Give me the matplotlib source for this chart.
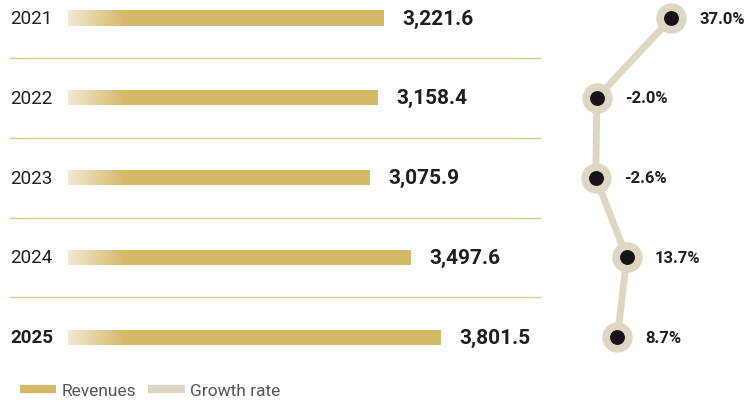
import numpy as np
import matplotlib.pyplot as plt
from matplotlib.lines import Line2D
from matplotlib.colors import LinearSegmentedColormap

years = ["2021", "2022", "2023", "2024", "2025"]
revenues = [3221.6, 3158.4, 3075.9, 3497.6, 3801.5]
growth = [37.0, -2.0, -2.6, 13.7, 8.7]

gold = "#d5b969"
light = "#f1e9d2"
beige = "#dcd6c3"
txt = "#1e1e1e"

plt.rcParams['font.family'] = ['Roboto', 'DejaVu Sans']

W, H = 756, 402
fig = plt.figure(figsize=(W / 100, H / 100), dpi=100)

# row geometry (pixels)
row0, step = 19, 79.8
y = np.arange(len(years))
ylim = ((H - row0) / step, -row0 / step)

# bars axis: pixel = 68 + 0.0982 * value
bx0, bs = 68, 0.0982
ax = fig.add_axes([0, 0, 1, 1])
ax.set_xlim(-bx0 / bs, (W - bx0) / bs)
ax.set_ylim(*ylim)
ax.axis("off")

bh = 0.19
bars = ax.barh(y, revenues, height=bh, color=gold, zorder=2)
cmap = LinearSegmentedColormap.from_list("g", [light, gold])
grad = np.linspace(0, 1, 256).reshape(1, -1)
for i, v in enumerate(revenues):
    im = ax.imshow(grad, cmap=cmap, aspect="auto", zorder=3,
                   extent=[0, 580, i + bh, i - bh], interpolation="bicubic")
    im.set_clip_path(bars[i])
    ax.text(v + 18 / bs, i, f"{v:,.1f}", ha="left", va="center",
            fontsize=15, fontweight="bold", color=txt)
    ax.text(10 / W, i, years[i], transform=ax.get_yaxis_transform(),
            ha="left", va="center", fontsize=13.5, color=txt,
            fontweight="bold" if i == len(years) - 1 else "normal")
ax.set_xlim(-bx0 / bs, (W - bx0) / bs)
ax.set_ylim(*ylim)

for i in range(len(years) - 1):
    ax.plot([10 / W, 540 / W], [i + 0.5, i + 0.5], transform=ax.get_yaxis_transform(),
            color="#dcc88f", lw=1, zorder=1)

# growth axis: pixel = 600.7 + 1.911 * pct
gx0, gs = 600.7, 1.911
ax2 = fig.add_axes([0, 0, 1, 1])
ax2.set_xlim(-gx0 / gs, (W - gx0) / gs)
ax2.set_ylim(*ylim)
ax2.axis("off")
ax2.patch.set_alpha(0)
ax2.plot(growth, y, color=beige, lw=5, zorder=1, solid_capstyle="round")
ax2.scatter(growth, y, s=480, color=beige, zorder=2, linewidths=0)
ax2.scatter(growth, y, s=115, color="#151515", zorder=3, linewidths=0)
for i, g in enumerate(growth):
    ax2.text(g + 28 / gs, y[i], f"{g:.1f}%", ha="left", va="center",
             fontsize=12, fontweight="bold", color=txt)

handles = [Line2D([], [], color=gold, lw=6, solid_capstyle="butt"),
           Line2D([], [], color=beige, lw=6, solid_capstyle="butt")]
fig.legend(handles, ["Revenues", "Growth rate"], loc="lower left",
           bbox_to_anchor=(4 / W, -13 / H), ncol=2, frameon=False,
           fontsize=12.5, handlelength=2.1, handletextpad=0.3, columnspacing=0.7,
           labelcolor="#555555")

fig.savefig("out.png", dpi=100)
